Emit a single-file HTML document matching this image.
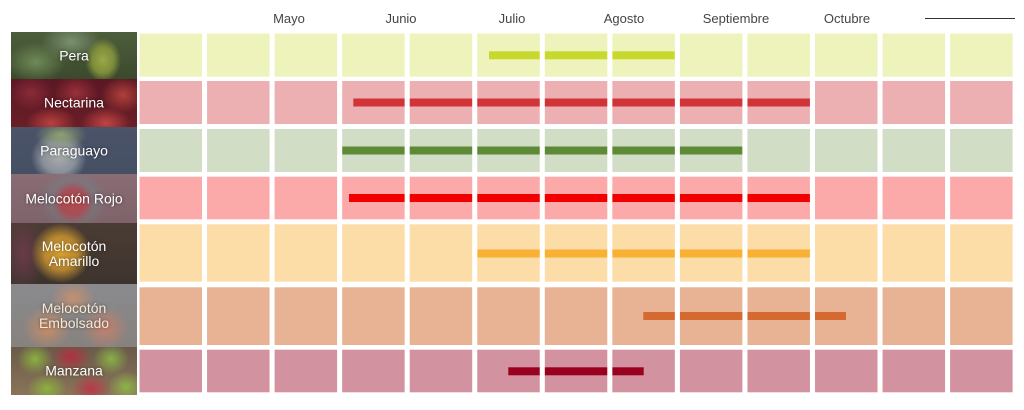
<!DOCTYPE html>
<html><head><meta charset="utf-8">
<style>
html,body{margin:0;padding:0;background:#fff;}
body{width:1024px;height:410px;position:relative;overflow:hidden;font-family:"Liberation Sans",sans-serif;}
.m{position:absolute;top:11px;font-size:13px;color:#444;transform:translateX(-50%);white-space:nowrap;}
.ph{position:absolute;left:11px;width:126px;overflow:hidden;}
.lb{position:absolute;left:0;right:0;top:50%;transform:translateY(-50%);text-align:center;color:#fff;font-size:14px;line-height:15px;text-shadow:0 0 3px rgba(0,0,0,.5);}
svg{position:absolute;left:0;top:0;}
</style></head><body>
<div class="m" style="left:289px">Mayo</div>
<div class="m" style="left:401px">Junio</div>
<div class="m" style="left:512px">Julio</div>
<div class="m" style="left:624px">Agosto</div>
<div class="m" style="left:736px">Septiembre</div>
<div class="m" style="left:847px">Octubre</div>
<div style="position:absolute;left:925px;top:18px;width:90px;height:1px;background:#333"></div>

<div class="ph" style="top:32px;height:47px;background:
radial-gradient(ellipse 18px 22px at 92px 28px,#9aa848 0%,#7d8c3a 60%,rgba(0,0,0,0) 100%),
radial-gradient(ellipse 30px 20px at 25px 30px,#6f8a58 0%,rgba(0,0,0,0) 100%),
radial-gradient(ellipse 30px 20px at 60px 10px,#7a9070 0%,rgba(0,0,0,0) 100%),
linear-gradient(180deg,#4d5e3c,#3b4a2c);"><div class="lb">Pera</div></div>

<div class="ph" style="top:79px;height:48px;background:
radial-gradient(ellipse 22px 18px at 20px 14px,#8a2a38 0%,rgba(0,0,0,0) 100%),
radial-gradient(ellipse 22px 18px at 65px 14px,#9a3038 0%,rgba(0,0,0,0) 100%),
radial-gradient(ellipse 22px 18px at 112px 16px,#b0403a 0%,rgba(0,0,0,0) 100%),
radial-gradient(ellipse 25px 16px at 40px 44px,#b84040 0%,rgba(0,0,0,0) 100%),
radial-gradient(ellipse 25px 16px at 95px 44px,#c04444 0%,rgba(0,0,0,0) 100%),
linear-gradient(180deg,#5a1824,#6a1e26);"><div class="lb">Nectarina</div></div>

<div class="ph" style="top:127px;height:47px;background:
radial-gradient(ellipse 26px 14px at 50px 8px,#8fa070 0%,rgba(0,0,0,0) 100%),
radial-gradient(ellipse 28px 26px at 48px 30px,#a8acaa 0%,#8a909a 60%,rgba(0,0,0,0) 100%),
linear-gradient(180deg,#4a5368,#465064);"><div class="lb">Paraguayo</div></div>

<div class="ph" style="top:174px;height:49px;background:
radial-gradient(ellipse 22px 22px at 62px 28px,#b84a48 0%,#a45058 60%,rgba(0,0,0,0) 100%),
radial-gradient(ellipse 34px 30px at 62px 26px,#6a8c90 0%,rgba(0,0,0,0) 100%),
linear-gradient(180deg,#8a6c74,#7e646a);"><div class="lb">Melocotón Rojo</div></div>

<div class="ph" style="top:223px;height:61px;background:
radial-gradient(ellipse 30px 30px at 50px 30px,#d8a030 0%,#b88830 55%,rgba(0,0,0,0) 100%),
radial-gradient(ellipse 20px 40px at 12px 30px,#6a3a4a 0%,rgba(0,0,0,0) 100%),
linear-gradient(180deg,#4a3c34,#3e342e);"><div class="lb">Melocotón<br>Amarillo</div></div>

<div class="ph" style="top:284px;height:63px;background:
radial-gradient(ellipse 22px 18px at 62px 14px,#c49070 0%,rgba(0,0,0,0) 100%),
radial-gradient(ellipse 24px 22px at 36px 44px,#c88c68 0%,rgba(0,0,0,0) 100%),
radial-gradient(ellipse 24px 22px at 94px 44px,#c4806c 0%,rgba(0,0,0,0) 100%),
linear-gradient(180deg,#8a8a8e,#86827e);"><div class="lb" style="color:#f4ead8">Melocotón<br>Embolsado</div></div>

<div class="ph" style="top:347px;height:48px;background:
radial-gradient(ellipse 18px 16px at 24px 12px,#8ab040 0%,rgba(0,0,0,0) 100%),
radial-gradient(ellipse 20px 16px at 60px 10px,#b03040 0%,rgba(0,0,0,0) 100%),
radial-gradient(ellipse 18px 16px at 100px 12px,#88b048 0%,rgba(0,0,0,0) 100%),
radial-gradient(ellipse 20px 16px at 36px 42px,#8cb040 0%,rgba(0,0,0,0) 100%),
radial-gradient(ellipse 20px 16px at 80px 42px,#b83848 0%,rgba(0,0,0,0) 100%),
radial-gradient(ellipse 18px 16px at 115px 40px,#8cb448 0%,rgba(0,0,0,0) 100%),
linear-gradient(180deg,#6a5a4a,#8a7458);"><div class="lb">Manzana</div></div>

<svg width="1024" height="410" viewBox="0 0 1024 410" style="pointer-events:none">
<g>
<rect x="139.5" y="33.5" width="873.1" height="43.2" fill="#EEF3BB"/>
<rect x="139.5" y="81" width="873.1" height="43" fill="#EDB0B2"/>
<rect x="139.5" y="129" width="873.1" height="43" fill="#D2DDC6"/>
<rect x="139.5" y="176.7" width="873.1" height="42.6" fill="#FCA9A9"/>
<rect x="139.5" y="224.3" width="873.1" height="57.4" fill="#FCDCA7"/>
<rect x="139.5" y="287.3" width="873.1" height="57.7" fill="#E8B394"/>
<rect x="139.5" y="349.7" width="873.1" height="42.6" fill="#D3929F"/>
</g>
<g>
<rect x="489" y="51.3" width="185.85" height="8" fill="#C8D92E"/>
<rect x="353.3" y="98.5" width="456.65" height="8" fill="#D13438"/>
<rect x="342.15" y="146.5" width="400.25" height="8" fill="#5E8A36"/>
<rect x="349" y="194" width="460.95" height="8" fill="#F20000"/>
<rect x="477.25" y="249.5" width="332.7" height="8" fill="#F8B133"/>
<rect x="643.3" y="312" width="202.7" height="8" fill="#D46A2F"/>
<rect x="508.3" y="367.3" width="135.4" height="8" fill="#98001E"/>
</g>
<g fill="#fff">
<rect x="202" y="30" width="5.05" height="366"/>
<rect x="269.55" y="30" width="5.05" height="366"/>
<rect x="337.1" y="30" width="5.05" height="366"/>
<rect x="404.65" y="30" width="5.05" height="366"/>
<rect x="472.2" y="30" width="5.05" height="366"/>
<rect x="539.75" y="30" width="5.05" height="366"/>
<rect x="607.3" y="30" width="5.05" height="366"/>
<rect x="674.85" y="30" width="5.05" height="366"/>
<rect x="742.4" y="30" width="5.05" height="366"/>
<rect x="809.95" y="30" width="5.05" height="366"/>
<rect x="877.5" y="30" width="5.05" height="366"/>
<rect x="945.05" y="30" width="5.05" height="366"/>
</g>
</svg>
</body></html>
